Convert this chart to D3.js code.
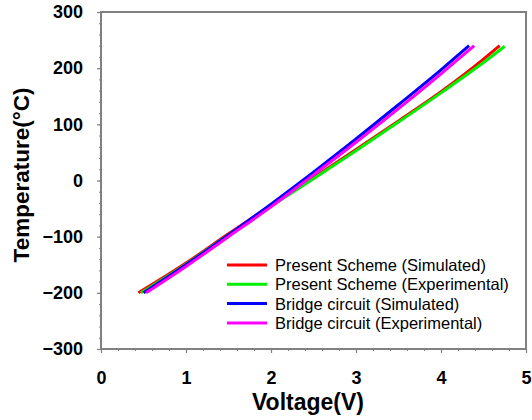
<!DOCTYPE html>
<html>
<head>
<meta charset="utf-8">
<script src="https://cdn.jsdelivr.net/npm/d3@7"></script>
<style>
  body { margin: 0; background: #fff; }
  text { font-family: "Liberation Sans", Arial, sans-serif; }
</style>
</head>
<body>
<div id="chart"></div>
<script>
// Data: voltage (V) and temperature (C) per series
let presentSimV = [0.44, 1.0, 1.5, 2.0, 2.5, 3.0, 3.5, 4.0, 4.5, 4.69];
let presentSimT = [-200, -147, -95, -44, 5, 55, 106, 158, 216, 240];
let presentExpV = [0.47, 1.0, 1.5, 2.0, 2.5, 3.0, 3.5, 4.0, 4.5, 4.75];
let presentExpT = [-200, -149, -97, -46, 3, 53, 104, 156, 210, 239];
let bridgeSimV = [0.50, 1.0, 1.5, 2.0, 2.5, 3.0, 3.5, 4.0, 4.33];
let bridgeSimT = [-200, -150, -97, -42, 15, 74, 135, 197, 240];
let bridgeExpV = [0.53, 1.0, 1.5, 2.0, 2.5, 3.0, 3.5, 4.0, 4.39];
let bridgeExpT = [-200, -153, -100, -47, 10, 68, 128, 190, 240];

let seriesNames = [
  "Present Scheme (Simulated)",
  "Present Scheme (Experimental)",
  "Bridge circuit (Simulated)",
  "Bridge circuit (Experimental)"
];
let seriesColors = ["#ff0000", "#00ee00", "#0000ff", "#ff00ff"];

let xTicks = [0, 1, 2, 3, 4, 5];
let yTicks = [-300, -200, -100, 0, 100, 200, 300];

let series = [
  d3.zip(presentSimV, presentSimT),
  d3.zip(presentExpV, presentExpT),
  d3.zip(bridgeSimV, bridgeSimT),
  d3.zip(bridgeExpV, bridgeExpT)
];

// Dimensions of the plot
let dim = { top: 12, right: 6, bottom: 71, left: 101 };
let width = 532 - dim.left - dim.right;
let height = 420 - dim.top - dim.bottom;

let svg = d3.select("#chart")
  .append("svg")
  .attr("width", 532)
  .attr("height", 420)
  .append("g")
  .attr("transform", "translate(" + dim.left + "," + dim.top + ")");

let x = d3.scaleLinear().domain([0, 5]).range([0, width]);
let y = d3.scaleLinear().domain([-300, 300]).range([height, 0]);

let axisColor = "#808080";

// minor ticks
svg.append("g")
  .attr("transform", "translate(0," + height + ")")
  .call(d3.axisBottom(x).tickValues(d3.range(0, 5.01, 0.2)).tickSize(2).tickFormat(""))
  .call(g => g.select(".domain").remove());
svg.append("g")
  .call(d3.axisLeft(y).tickValues(d3.range(-300, 301, 20)).tickSize(2).tickFormat(""))
  .call(g => g.select(".domain").remove());

// major ticks + labels
let xAxis = svg.append("g")
  .attr("transform", "translate(0," + height + ")")
  .call(d3.axisBottom(x).tickValues(xTicks).tickSize(4).tickPadding(18).tickFormat(d3.format("d")));
let yAxis = svg.append("g")
  .call(d3.axisLeft(y).tickValues(yTicks).tickSize(4).tickPadding(14).tickFormat(d3.format("d")));

[xAxis, yAxis].forEach(a => {
  a.selectAll("text")
    .attr("font-size", "18px")
    .attr("font-weight", "bold")
    .attr("fill", "#000");
  a.selectAll(".tick line").attr("stroke", axisColor).attr("stroke-width", 1.2);
  a.select(".domain").remove();
});
svg.selectAll(".tick line").attr("stroke", axisColor);

// Frame
svg.append("rect")
  .attr("x", 0).attr("y", 0)
  .attr("width", width).attr("height", height)
  .attr("fill", "none")
  .attr("stroke", axisColor)
  .attr("stroke-width", 2);

// Curves
let line = d3.line()
  .x(d => x(d[0]))
  .y(d => y(d[1]))
  .curve(d3.curveMonotoneX);

svg.selectAll(".curve")
  .data(series)
  .enter()
  .append("path")
  .attr("class", "curve")
  .attr("fill", "none")
  .attr("stroke", (d, i) => seriesColors[i])
  .attr("stroke-width", 3)
  .attr("d", line);

// Legend
let legend = svg.append("g")
  .attr("transform", "translate(" + (227 - dim.left) + "," + (265 - dim.top) + ")");
seriesNames.forEach((name, i) => {
  let row = legend.append("g").attr("transform", "translate(0," + (i * 19.3) + ")");
  row.append("line")
    .attr("x1", 0).attr("x2", 40)
    .attr("stroke", seriesColors[i])
    .attr("stroke-width", 3);
  row.append("text")
    .attr("x", 48)
    .attr("y", 6)
    .attr("font-size", "16.5px")
    .attr("fill", "#000")
    .text(name);
});

// X Label
svg.append("text")
  .attr("text-anchor", "middle")
  .attr("x", 308 - dim.left)
  .attr("y", 410 - dim.top)
  .attr("font-size", "23px")
  .attr("font-weight", "bold")
  .text("Voltage(V)");

// Y Label
svg.append("text")
  .attr("text-anchor", "middle")
  .attr("transform", "translate(" + (29 - dim.left) + "," + (175 - dim.top) + ") rotate(-90)")
  .attr("font-size", "22.5px")
  .attr("font-weight", "bold")
  .text("Temperature(°C)");
</script>
</body>
</html>
